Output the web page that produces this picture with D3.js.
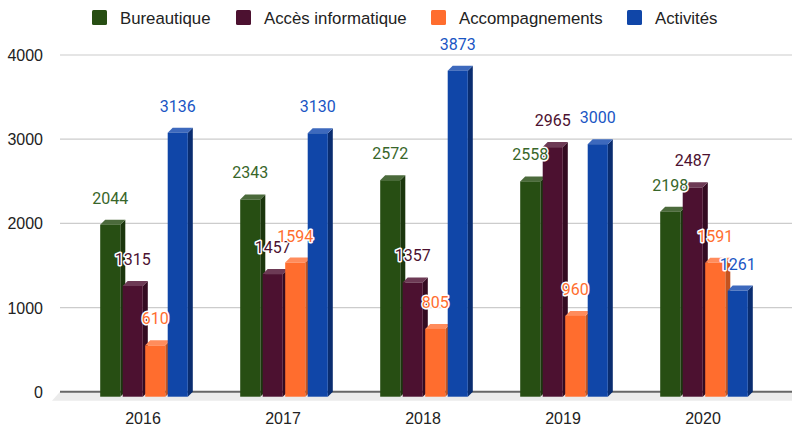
<!DOCTYPE html>
<head>
<meta charset="utf-8">
<style>
body {
  margin: 0;
  background: #fff;
}
.axis text {
  font: 16px "Liberation Sans", Arial, sans-serif;
  fill: #222;
}
.legend text {
  font: 16.8px "Liberation Sans", Arial, sans-serif;
  fill: #222;
}
.val {
  font: 16px Roboto, sans-serif;
  paint-order: stroke;
  stroke: #fff;
  stroke-width: 3px;
  stroke-linejoin: round;
  text-anchor: middle;
}
</style>
</head>
<body>
<script src="https://d3js.org/d3.v7.min.js"></script>
<script>
var years = ["2016", "2017", "2018", "2019", "2020"];
var series = ["Bureautique", "Accès informatique", "Accompagnements", "Activités"];
var bureautique = [2044, 2343, 2572, 2558, 2198];
var acces = [1315, 1457, 1357, 2965, 2487];
var accompagnements = [610, 1594, 805, 960, 1591];
var activites = [3136, 3130, 3873, 3000, 1261];
var yTicks = [0, 1000, 2000, 3000, 4000];

var values = [bureautique, acces, accompagnements, activites];

// front, top, side, label
var colors = [
  {front: "#274e13", top: "#4b6a3b", side: "#1b360d", label: "#38662a"},
  {front: "#4c1130", top: "#6d3a55", side: "#340b21", label: "#4c1130"},
  {front: "#ff6d2e", top: "#ff8c5c", side: "#c4531f", label: "#ff6d2e"},
  {front: "#1046a8", top: "#3d69bd", side: "#0a2d70", label: "#1a56c4"}
];

var W = 792, H = 430,
    depth = 5;

var svg = d3.select("body").append("svg")
  .attr("width", W)
  .attr("height", H);

var y = d3.scaleLinear().domain([0, 4000]).range([391.7, 55]);
var x0 = d3.scaleBand().domain(years).range([74, 774]);
var x1 = d3.scaleBand().domain(series).range([-43.8, 43.8]).paddingInner(0.107);

//
// floor, grid, axis
//
svg.append("polygon")
  .attr("points", [[60, y(0)], [W, y(0)], [W, y(0) + 9], [52, y(0) + 9]].join(" "))
  .attr("fill", "#ebebeb");

var axis = svg.append("g").attr("class", "axis");
axis.selectAll("line").data(yTicks).join("line")
  .attr("x1", 60).attr("x2", W)
  .attr("y1", d => y(d)).attr("y2", d => y(d))
  .attr("stroke", d => d == 0 ? "#666" : "#ccc")
  .attr("stroke-width", d => d == 0 ? 2 : 1.2);
axis.selectAll("text.ytick").data(yTicks).join("text")
  .attr("class", "ytick")
  .attr("x", 43).attr("y", d => y(d) + 6)
  .attr("text-anchor", "end")
  .text(d => d);
axis.selectAll("text.xtick").data(years).join("text")
  .attr("class", "xtick")
  .attr("x", d => x0(d) + x0.bandwidth() / 2 - 1)
  .attr("y", 424)
  .attr("text-anchor", "middle")
  .text(d => d);

//
// 3d bars
//
var bars = [];
years.forEach(function(yr, i) {
  series.forEach(function(s, j) {
    var bx = x0(yr) + x0.bandwidth() / 2 + x1(s);
    bars.push({x: bx, w: x1.bandwidth(), v: values[j][i], j: j});
  });
});

var gb = svg.append("g");
bars.forEach(function(b) {
  var c = colors[b.j];
  var yt = y(b.v), yb = y(0);
  var g = gb.append("g");
  g.append("polygon")
    .attr("points", [[b.x + b.w, yt + depth], [b.x + b.w + depth, yt], [b.x + b.w + depth, yb], [b.x + b.w, yb + depth]].join(" "))
    .attr("fill", c.side);
  g.append("polygon")
    .attr("points", [[b.x, yt + depth], [b.x + depth, yt], [b.x + b.w + depth, yt], [b.x + b.w, yt + depth]].join(" "))
    .attr("fill", c.top);
  g.append("rect")
    .attr("x", b.x).attr("y", yt + depth)
    .attr("width", b.w).attr("height", yb - yt)
    .attr("fill", c.front);
});

// value labels on top of every bar
svg.append("g").selectAll("text").data(bars).join("text")
  .attr("class", "val")
  .attr("x", d => d.x + d.w / 2)
  .attr("y", d => y(d.v) + depth - 21)
  .attr("fill", d => colors[d.j].label)
  .text(d => d.v);

//
// legend
//
var legX = [92, 236, 431, 627];
var leg = svg.append("g").attr("class", "legend");
series.forEach(function(s, j) {
  leg.append("rect")
    .attr("x", legX[j]).attr("y", 10)
    .attr("width", 15).attr("height", 15)
    .attr("rx", 1.5)
    .attr("fill", colors[j].front);
  leg.append("text")
    .attr("x", legX[j] + 28).attr("y", 23.5)
    .text(s);
});
</script>
</body>
